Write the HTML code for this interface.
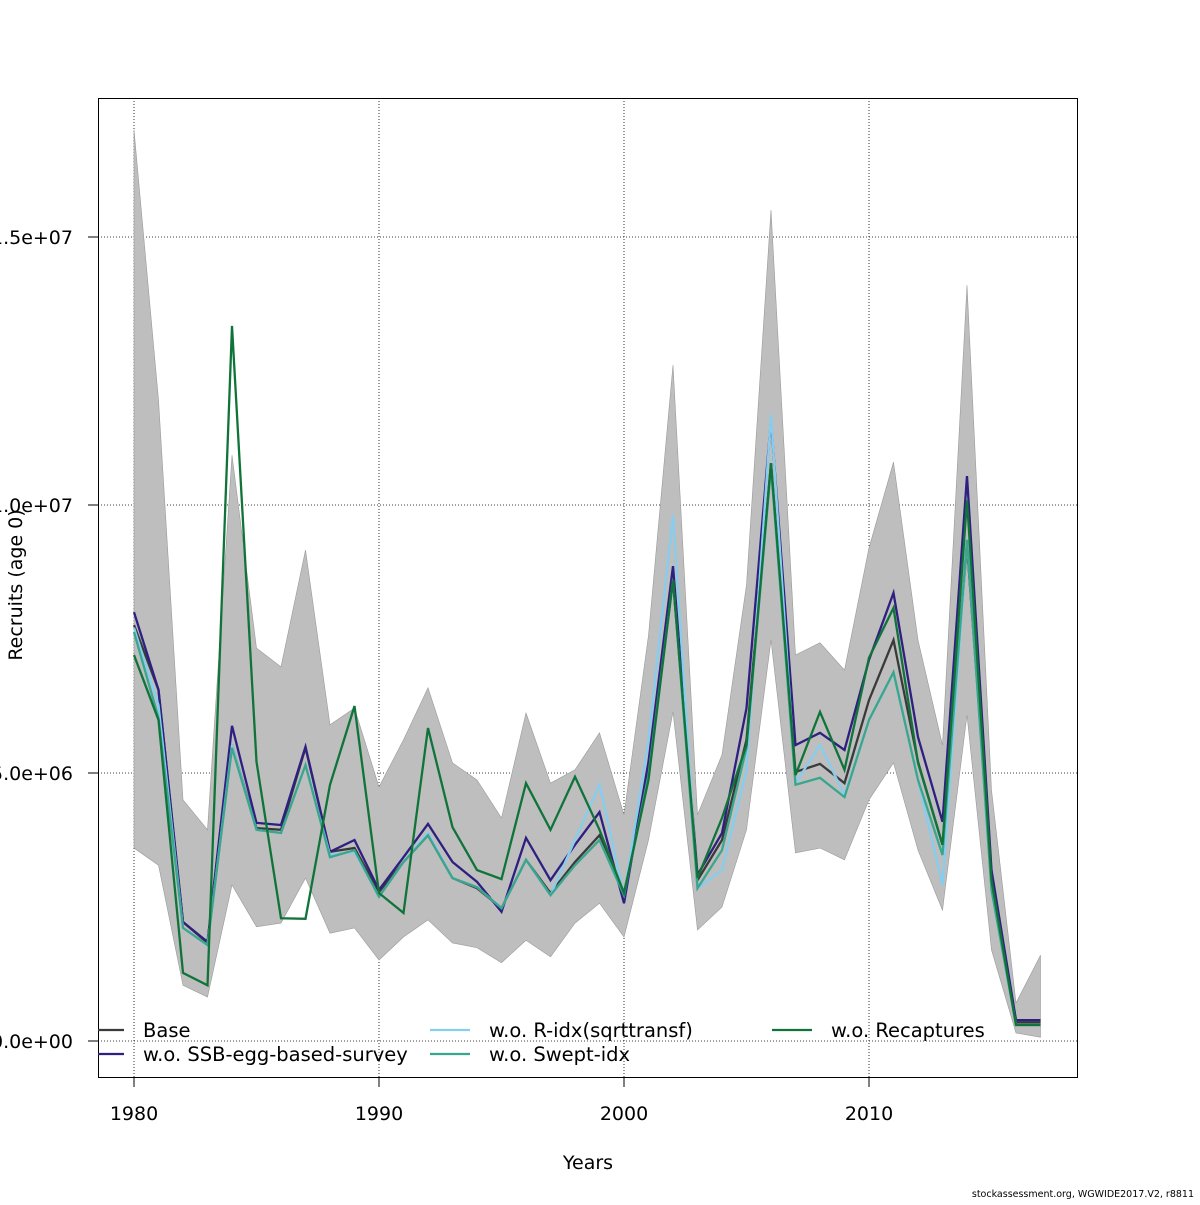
<!DOCTYPE html>
<html><head><meta charset="utf-8"><style>
body{margin:0;background:#fff;}
svg text{font-family:"DejaVu Sans","Liberation Sans",sans-serif;}
</style></head><body>
<svg id="chart" width="1200" height="1200" xmlns="http://www.w3.org/2000/svg">
<g id="grid"></g>
<g id="band"></g>
<g id="lines"></g>
<rect x="98.5" y="98.5" width="979" height="979" fill="none" stroke="#000"/>
<g id="axes"></g>
<text x="588" y="1169" font-size="19" text-anchor="middle">Years</text>
<text transform="translate(22,585) rotate(-90)" font-size="19" text-anchor="middle">Recruits (age 0)</text>
<text x="1194" y="1197" font-size="9.5" text-anchor="end">stockassessment.org, WGWIDE2017.V2, r8811</text>
<g id="legend"></g>
</svg>
<script>
const years=[1980,1981,1982,1983,1984,1985,1986,1987,1988,1989,1990,1991,1992,1993,1994,1995,1996,1997,1998,1999,2000,2001,2002,2003,2004,2005,2006,2007,2008,2009,2010,2011,2012,2013,2014,2015,2016,2017];
// values in millions
const base=[7.76,6.55,2.22,1.83,5.52,3.97,3.94,5.47,3.53,3.60,2.78,3.34,3.84,3.04,2.85,2.48,3.38,2.76,3.34,3.84,2.76,5.09,8.60,3.00,3.75,5.62,10.78,5.02,5.17,4.81,6.36,7.48,5.21,3.66,9.25,3.00,0.35,0.35];
const ssbEgg=[8.00,6.55,2.22,1.85,5.88,4.07,4.03,5.49,3.53,3.75,2.82,3.43,4.05,3.34,2.97,2.41,3.79,3.00,3.66,4.27,2.57,5.21,8.86,3.10,3.88,6.21,11.59,5.52,5.75,5.43,7.11,8.36,5.67,4.09,10.54,3.19,0.39,0.39];
const rIdx=[7.71,6.27,2.11,1.79,5.52,3.94,3.88,5.15,3.47,3.53,2.69,3.34,3.88,3.04,2.87,2.48,3.38,2.72,3.75,4.78,2.72,5.62,9.81,2.85,3.19,5.06,11.68,4.81,5.52,4.59,5.99,6.87,4.87,2.91,9.35,2.82,0.30,0.30];
const swept=[7.63,6.03,2.11,1.79,5.47,3.94,3.88,5.15,3.43,3.56,2.69,3.34,3.84,3.04,2.87,2.48,3.38,2.72,3.28,3.75,2.72,4.96,8.60,2.85,3.56,5.47,10.71,4.78,4.91,4.55,5.99,6.88,4.87,3.47,9.35,2.82,0.30,0.30];
const recaptures=[7.20,5.99,1.27,1.04,13.34,5.21,2.29,2.28,4.78,6.25,2.76,2.39,5.84,3.99,3.19,3.02,4.81,3.94,4.93,3.94,2.76,4.87,8.60,3.04,4.16,5.52,10.78,4.96,6.14,5.06,7.15,8.08,5.19,3.66,10.09,3.00,0.30,0.30];
const upper=[17.00,11.96,4.50,3.94,10.93,7.33,6.98,9.16,5.90,6.21,4.74,5.62,6.59,5.19,4.87,4.16,6.12,4.81,5.06,5.75,4.22,7.57,12.61,4.22,5.34,8.51,15.50,7.20,7.43,6.92,9.20,10.80,7.48,5.52,14.10,4.68,0.71,1.60];
const lower=[3.60,3.28,1.04,0.82,2.91,2.13,2.20,3.04,2.01,2.11,1.51,1.94,2.26,1.83,1.74,1.46,1.88,1.57,2.20,2.57,1.94,3.75,6.14,2.07,2.50,3.94,7.48,3.51,3.60,3.38,4.50,5.19,3.56,2.44,6.08,1.70,0.15,0.07];
const xTicks=[1980,1990,2000,2010];
const yTicks=[0,5,10,15];
const yTickLabels=["0.0e+00","5.0e+06","1.0e+07","1.5e+07"];

const NS="http://www.w3.org/2000/svg";
const X=y=>134+(y-1980)*24.5;
const Y=v=>1041-v*53.6;
function mk(tag,attrs,parent){const e=document.createElementNS(NS,tag);for(const k in attrs)e.setAttribute(k,attrs[k]);parent.appendChild(e);return e;}
const grid=document.getElementById('grid'),axes=document.getElementById('axes');
xTicks.forEach(t=>{
  const l=mk('line',{x1:X(t),x2:X(t),y1:98,y2:1077,stroke:'#000','stroke-width':0.8,'stroke-dasharray':'1,2'},grid);
  
  
  const tk=mk('line',{x1:X(t),x2:X(t),y1:1077,y2:1087,stroke:'#000'},axes);
  
  
  const tx=mk('text',{x:X(t),y:1120,'font-size':19,'text-anchor':'middle'},axes);tx.textContent=t;
  
  
});
yTicks.forEach((t,i)=>{
  const l=mk('line',{x1:98,x2:1077,y1:Y(t),y2:Y(t),stroke:'#000','stroke-width':0.8,'stroke-dasharray':'1,2'},grid);
  
  
  const tk=mk('line',{x1:88,x2:98,y1:Y(t),y2:Y(t),stroke:'#000'},axes);
  
  
  const tx=mk('text',{x:73,y:Y(t)+7,'font-size':19,'text-anchor':'end'},axes);tx.textContent=yTickLabels[i];
  
  
});
let d='';
years.forEach((y,i)=>{d+=(i?'L':'M')+X(y)+','+Y(upper[i]);});
for(let i=years.length-1;i>=0;i--)d+='L'+X(years[i])+','+Y(lower[i]);
const bp=mk('path',{d:d+'Z',fill:'#bebebe',stroke:'#9a9a9a','stroke-width':0.6},document.getElementById('band'));


const series=[
 {name:'Base',vals:base,col:'#3a3a3a',id:'base'},
 {name:'w.o. SSB-egg-based-survey',vals:ssbEgg,col:'#2e1f80',id:'ssb-egg'},
 {name:'w.o. R-idx(sqrttransf)',vals:rIdx,col:'#87cdee',id:'r-idx'},
 {name:'w.o. Swept-idx',vals:swept,col:'#3aa68e',id:'swept-idx'},
 {name:'w.o. Recaptures',vals:recaptures,col:'#10743a',id:'recaptures'}];
const lg=document.getElementById('lines');
series.forEach(s=>{
  const p=mk('polyline',{points:years.map((y,i)=>X(y)+','+Y(s.vals[i])).join(' '),fill:'none',stroke:s.col,'stroke-width':2.3},lg);
  
  
});
const leg=document.getElementById('legend');
const pos=[[84,1030],[84,1054],[430,1030],[430,1054],[772,1030]];
series.forEach((s,i)=>{
  const [x,y]=pos[i];
  const g=mk('g',{},leg);
  
  
  mk('line',{x1:Math.max(x,98),x2:x+40,y1:y,y2:y,stroke:s.col,'stroke-width':2.3},g);
  const t=mk('text',{x:x+59,y:y+7,'font-size':19.5},g);t.textContent=s.name;
});
</script>
</body></html>
